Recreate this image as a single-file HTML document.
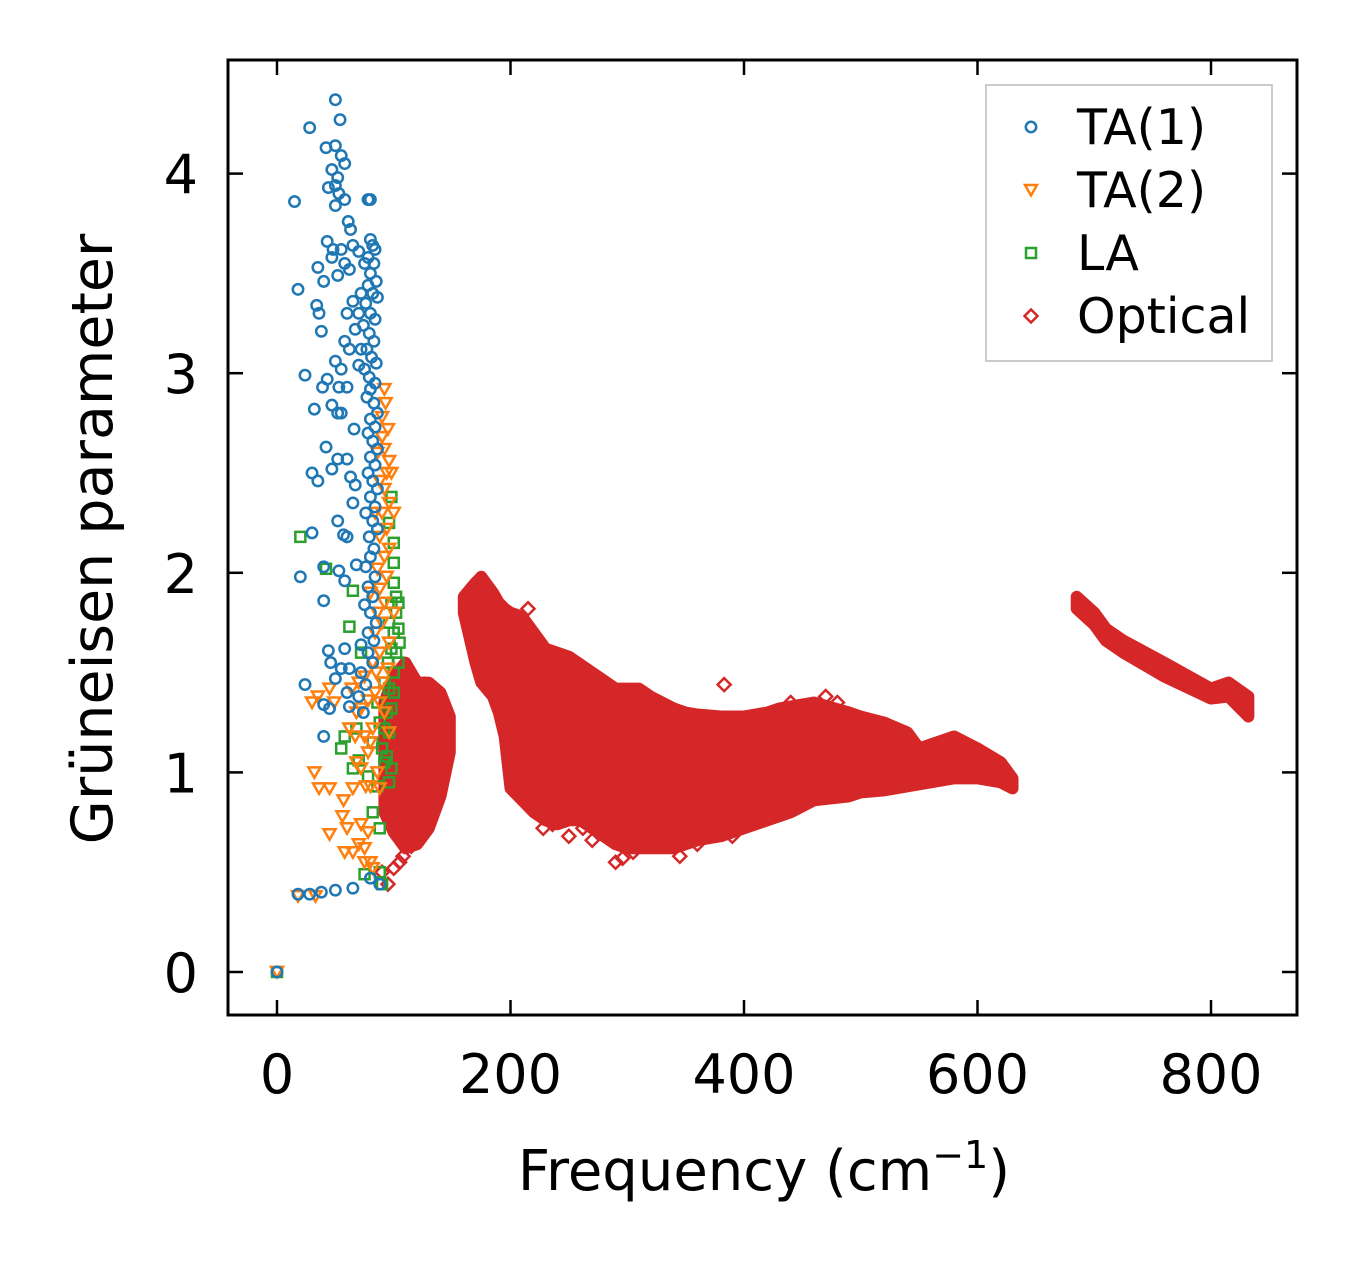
<!DOCTYPE html>
<html><head><meta charset="utf-8"><style>
html,body{margin:0;padding:0;background:#fff;}
svg{display:block;font-family:"DejaVu Sans","Liberation Sans",sans-serif;}
</style></head><body>
<svg id="chart" width="1357" height="1264" viewBox="0 0 1357 1264" xmlns="http://www.w3.org/2000/svg">
<g id="marks"></g>
<rect x="228" y="60" width="1069" height="955" fill="none" stroke="#000" stroke-width="3"/>
<g id="axes"></g>
<text x="764" y="1190" font-size="56" text-anchor="middle">Frequency (cm<tspan font-size="38" dy="-22">−1</tspan><tspan dy="22">)</tspan></text>
<text transform="translate(112,539) rotate(-90)" font-size="57" text-anchor="middle">Grüneisen parameter</text>
<g>
<rect x="986" y="85" width="286" height="276" fill="#fff" stroke="#bbb" stroke-width="1.5"/>
<g id="legend-entries"></g>
</g>
</svg>
<script>
const xTicks=[0,200,400,600,800];
const yTicks=[0,1,2,3,4];
const ta1F=[50,54,28,42,50,55,58,47,52,50,44,53,15,78,80,58,50,61,63,43,48,55,65,70,35,47,52,58,40,62,75,18,72,65,70,34,36,60,67,38,58,72,62,50,55,70,24,43,39,53,60,32,47,52,55,66,42,30,35,47,52,60,63,67,65,52,30,57,60,20,53,58,40,40,68,44,46,58,55,62,50,60,24,40,45,62,40,18,28,38,50,65,80,88,0,
80,82,84,78,83,80,85,78,82,86,76,80,84,74,79,83,77,81,85,75,79,84,80,77,83,86,80,84,78,82,86,80,84,78,82,86,80,84,76,82,86,79,83,80,76,84,78,82,75,80,85,78,83,72,78,82,72,76,70,74];
const ta1G=[4.37,4.27,4.23,4.13,4.14,4.09,4.05,4.02,3.98,3.94,3.93,3.90,3.86,3.87,3.87,3.87,3.84,3.76,3.72,3.66,3.62,3.62,3.64,3.61,3.53,3.58,3.49,3.55,3.46,3.52,3.55,3.42,3.40,3.36,3.30,3.34,3.30,3.30,3.22,3.21,3.16,3.12,3.12,3.06,3.02,3.04,2.99,2.97,2.93,2.93,2.93,2.82,2.84,2.80,2.80,2.72,2.63,2.50,2.46,2.52,2.57,2.57,2.48,2.44,2.35,2.26,2.20,2.19,2.18,1.98,2.01,1.96,2.03,1.86,2.04,1.61,1.55,1.62,1.52,1.52,1.47,1.40,1.44,1.34,1.32,1.33,1.18,0.39,0.39,0.40,0.41,0.42,0.47,0.44,0,
3.67,3.64,3.62,3.58,3.55,3.50,3.46,3.44,3.40,3.38,3.35,3.30,3.27,3.24,3.20,3.16,3.12,3.08,3.05,3.02,2.98,2.95,2.92,2.88,2.85,2.80,2.77,2.73,2.70,2.66,2.62,2.58,2.54,2.50,2.46,2.42,2.38,2.33,2.30,2.26,2.22,2.18,2.12,2.08,2.03,1.98,1.93,1.88,1.84,1.80,1.75,1.70,1.66,1.64,1.60,1.55,1.50,1.44,1.38,1.30];
const ta2F=[18,33,49,35,30,45,32,36,45,57,65,56,45,60,58,65,70,75,75,80,82,72,78,68,72,78,62,67,75,80,68,72,78,82,86,88,80,76,64,70,75,84,88,82,88,84,90,86,92,88,94,86,92,96,88,94,90,96,92,88,94,96,92,90,95,90,93,92,98,100,86,84,80,96,100,85,90,95,92,96,0];
const ta2G=[0.38,0.38,1.35,1.38,1.35,1.42,1.00,0.92,0.92,0.86,0.92,0.78,0.69,0.72,0.60,0.60,0.64,0.62,0.55,0.55,0.52,0.74,0.70,1.05,1.02,1.10,1.22,1.18,1.18,1.15,1.30,1.32,1.36,1.22,1.00,0.92,0.93,0.93,1.42,1.45,1.48,1.40,1.35,1.55,1.60,1.70,1.75,1.80,1.85,1.92,1.98,2.02,2.08,2.12,2.18,2.22,2.30,2.35,2.42,2.46,2.50,2.56,2.62,2.68,2.72,2.78,2.85,2.92,2.50,2.30,2.60,2.30,1.90,1.65,1.80,1.50,1.45,1.52,1.30,1.20,0];
const laF=[20,42,65,62,72,55,58,68,65,70,78,82,86,82,88,90,88,75,96,100,98,100,98,102,96,100,104,98,102,95,100,104,96,100,94,98,92,96,90,94,98,88,92,100,96,102,92,86,105,104,0];
const laG=[2.18,2.02,1.91,1.73,1.60,1.12,1.18,1.22,1.02,1.06,0.98,1.15,0.93,0.80,0.72,0.44,0.50,0.49,0.95,2.15,2.38,1.95,1.85,1.80,1.75,1.70,1.72,1.62,1.60,1.55,1.50,1.55,1.42,1.40,1.30,1.32,1.22,1.20,1.12,1.08,1.02,1.25,1.05,2.05,2.25,1.88,1.45,1.35,1.65,1.85,0];
const optAF=[92,100,110,120,130,140,148];
const optAHi=[1.35,1.48,1.55,1.45,1.45,1.40,1.28];
const optALo=[0.80,0.70,0.62,0.64,0.72,0.88,1.10];
const optBF=[160,170,175,185,190,195,200,210,220,230,240,250,260,270,280,290,300,310,320,330,340,350,360,380,400,420,430,440,460,490,500,520,540,550,580,600,620,630];
const optBHi=[1.88,1.95,1.98,1.90,1.85,1.82,1.80,1.78,1.70,1.62,1.60,1.58,1.54,1.50,1.46,1.42,1.42,1.42,1.38,1.35,1.32,1.30,1.29,1.28,1.28,1.30,1.32,1.33,1.35,1.30,1.28,1.25,1.20,1.12,1.18,1.12,1.05,0.97];
const optBLo=[1.80,1.55,1.45,1.38,1.30,1.18,0.92,0.86,0.80,0.76,0.74,0.76,0.76,0.72,0.68,0.64,0.62,0.62,0.62,0.62,0.62,0.64,0.66,0.68,0.72,0.76,0.78,0.80,0.86,0.88,0.90,0.91,0.93,0.94,0.97,0.97,0.95,0.92];
const optCF=[685,700,710,725,760,800,815,832];
const optCHi=[1.88,1.80,1.72,1.66,1.55,1.42,1.45,1.38];
const optCLo=[1.82,1.74,1.66,1.60,1.48,1.37,1.38,1.28];
const optPtF=[90,100,108,115,120,125,95,383,250,270,290,345,440,470,480,410,390,530,215,126,132,138,142,105,296,305,322,360,228,236,262];
const optPtG=[0.50,0.52,0.58,0.63,0.68,0.72,0.44,1.44,0.68,0.66,0.55,0.58,1.35,1.38,1.35,0.78,0.68,0.95,1.82,1.44,1.40,1.35,1.25,0.55,0.57,0.60,0.64,0.64,0.72,0.74,0.72];

const NS='http://www.w3.org/2000/svg';
const X=v=>277+v*1.1675;
const Y=v=>972-v*199.6;
const marks=document.getElementById('marks');
const axes=document.getElementById('axes');
function mk(tag,attrs,parent){const e=document.createElementNS(NS,tag);for(const k in attrs)e.setAttribute(k,attrs[k]);parent.appendChild(e);return e;}
function marker(type,cx,cy,parent){
  let e;
  if(type==='o') e=mk('circle',{cx:cx,cy:cy,r:5.2,fill:'none',stroke:'#1f77b4','stroke-width':2.5},parent);
  else if(type==='v') e=mk('polygon',{points:`${cx-6},${cy-5} ${cx+6},${cy-5} ${cx},${cy+5.5}`,fill:'none',stroke:'#ff7f0e','stroke-width':2.5},parent);
  else if(type==='s') e=mk('rect',{x:cx-5,y:cy-5,width:10,height:10,fill:'none',stroke:'#2ca02c','stroke-width':2.5},parent);
  else e=mk('polygon',{points:`${cx},${cy-6.5} ${cx+6.5},${cy} ${cx},${cy+6.5} ${cx-6.5},${cy}`,fill:'none',stroke:'#d62728','stroke-width':2.5},parent);
  return e;
}
function band(f,hi,lo,name){
  const pts=f.map((v,i)=>X(v)+','+Y(hi[i])).concat(f.slice().reverse().map((v,i)=>X(v)+','+Y(lo[lo.length-1-i])));
  const p=mk('polygon',{points:pts.join(' '),fill:'#d62728',stroke:'#d62728','stroke-width':12,'stroke-linejoin':'round'},marks);
  
  
}
band(optAF,optAHi,optALo,'optical-band-low');
band(optBF,optBHi,optBLo,'optical-band-main');
band(optCF,optCHi,optCLo,'optical-band-high');
optPtF.forEach((v,i)=>{const e=marker('d',X(v),Y(optPtG[i]),marks);

});
laF.forEach((v,i)=>{const e=marker('s',X(v),Y(laG[i]),marks);

});
ta2F.forEach((v,i)=>{const e=marker('v',X(v),Y(ta2G[i]),marks);

});
ta1F.forEach((v,i)=>{const e=marker('o',X(v),Y(ta1G[i]),marks);

});

xTicks.forEach(t=>{const x=X(t);
mk('line',{x1:x,x2:x,y1:1015,y2:1000,stroke:'#000','stroke-width':2.5},axes);
mk('line',{x1:x,x2:x,y1:60,y2:75,stroke:'#000','stroke-width':2.5},axes);
const tx=mk('text',{x:x,y:1093,'font-size':54,'text-anchor':'middle'},axes);tx.textContent=t;

});
yTicks.forEach(t=>{const y=Y(t);
mk('line',{x1:228,x2:243,y1:y,y2:y,stroke:'#000','stroke-width':2.5},axes);
mk('line',{x1:1297,x2:1282,y1:y,y2:y,stroke:'#000','stroke-width':2.5},axes);
const tx=mk('text',{x:198,y:y+20,'font-size':54,'text-anchor':'end'},axes);tx.textContent=t;

});

const lg=document.getElementById('legend-entries');
const legTypes=['o','v','s','d'];
const legLabels=['TA(1)','TA(2)','LA','Optical'];
legLabels.forEach((l,i)=>{const y=127+i*63;
const g=mk('g',{},lg);


marker(legTypes[i],1031,y,g);
const t=mk('text',{x:1077,y:y+17,'font-size':49},g);t.textContent=l;});
</script>
</body></html>
